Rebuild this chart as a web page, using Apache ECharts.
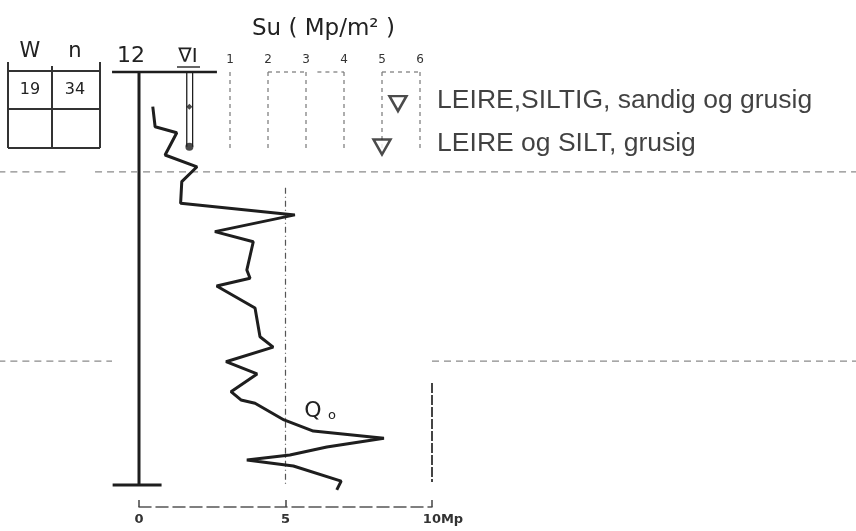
<!DOCTYPE html>
<html>
<head>
<meta charset="utf-8">
<script src="https://cdn.jsdelivr.net/npm/echarts@6/dist/echarts.min.js"></script>
<style>
html,body{margin:0;padding:0;background:#fff;}
#chart{width:856px;height:531px;}
</style>
</head>
<body>
<div id="chart"></div>
<script>
// ---- data ----
// total sounding force (Mp) against depth (m)
const forceMp    = [0.47,0.55,1.29,0.89,1.98,1.46,1.42,5.32,2.59,3.90,3.68,3.79,2.65,3.96,4.13,4.58,2.97,4.03,3.14,3.48,3.96,4.95,5.95,8.36,6.41,5.15,3.68,5.27,6.90,6.75];
const forceDepth = [1.68,2.65,2.94,4.02,4.59,5.31,6.36,6.92,7.73,8.22,9.59,9.99,10.36,11.43,12.82,13.32,14.03,14.62,15.48,15.88,16.04,16.85,17.39,17.74,18.16,18.55,18.79,19.08,19.81,20.24];
const forceTicks = [0, 5, 10];
const forceUnit  = 'Mp';
// shear strength Su (Mp/m2) with soil descriptions
const suValues   = [5.42, 5.0];
const suDepths   = [1.53, 3.63];
const soilLayers = ['LEIRE,SILTIG, sandig og grusig', 'LEIRE og SILT, grusig'];
const suTicks    = [1, 2, 3, 4, 5, 6];
// layer boundaries (m)
const layerBoundaries = [4.84, 14.0];
const boreholeDepth = 20;
// water content table
const tableHeaders = ['W', 'n'];
const tableValues  = ['19', '34'];
const elevation    = '12';
// piezometer
const piezoDepth = 3.62;
const piezoMark  = 1.68;

// ---- layout (pixels) ----
const W = 856, H = 531;
const PLOT_L = 139, PLOT_R = 432, PLOT_T = 72, PLOT_B = 485;
const pxPerMp = (PLOT_R - PLOT_L) / 10;
const pxPerM = (PLOT_B - PLOT_T) / boreholeDepth;

// ---- helpers ----
const INK = '#1e1e1e';
function seg(points, style, axis) {
  return {
    type: 'line', xAxisIndex: axis || 0, yAxisIndex: axis || 0,
    data: points, symbol: 'none', clip: false, silent: true,
    lineStyle: Object.assign({color: INK, width: 2}, style),
    z: 2
  };
}

const series = [];
// sounding curve
series.push({
  type: 'line', xAxisIndex: 0, yAxisIndex: 0, clip: false, symbol: 'none',
  data: forceMp.map((v, i) => [v, forceDepth[i]]),
  lineStyle: {color: INK, width: 3}, z: 5
});
// borehole axis, top line, bottom bar
series.push(seg([[0, 0], [0, boreholeDepth]], {width: 3}));
series.push(seg([[-0.92, 0], [2.66, 0]], {width: 2.5}));
series.push(seg([[-0.9, boreholeDepth], [0.77, boreholeDepth]], {width: 3}));
// layer boundaries (dashed, broken round the curve)
const dashed = {color: '#8a8a8a', width: 1.3, type: [7, 5]};
series.push(seg([[-4.8, layerBoundaries[0]], [-2.42, layerBoundaries[0]]], dashed));
series.push(seg([[-1.5, layerBoundaries[0]], [24.5, layerBoundaries[0]]], dashed));
series.push(seg([[-4.8, layerBoundaries[1]], [-0.92, layerBoundaries[1]]], dashed));
series.push(seg([[10, layerBoundaries[1]], [24.5, layerBoundaries[1]]], dashed));
// reference verticals at 5 and 10 Mp
series.push(seg([[5, 5.6], [5, boreholeDepth]], {color: '#555', width: 1.2, type: [6, 3, 1, 3]}));
series.push(seg([[10, 15.06], [10, 19.85]], {color: '#444', width: 2, type: [10, 2]}));
// piezometer tube
series.push(seg([[1.63, 0], [1.63, piezoDepth]], {width: 1.3}));
series.push(seg([[1.83, 0], [1.83, piezoDepth]], {width: 1.3}));
series.push({
  type: 'scatter', xAxisIndex: 0, yAxisIndex: 0, clip: false, silent: true,
  data: [[1.72, piezoDepth]], symbol: 'circle', symbolSize: 8,
  itemStyle: {color: INK}, z: 6
});
series.push({
  type: 'scatter', xAxisIndex: 0, yAxisIndex: 0, clip: false, silent: true,
  data: [[1.72, piezoMark]], symbol: 'diamond', symbolSize: [6, 6],
  itemStyle: {color: INK}, z: 6
});
// Su frame: dashed verticals and top brackets
const suDash = {color: '#777', width: 1.2, type: [4, 4]};
suTicks.forEach(t => series.push(seg([[t, 0], [t, 3.8]], suDash, 1)));
[[2, 3], [3.3, 4], [5, 6]].forEach(p => series.push(seg([[p[0], 0], [p[1], 0]], suDash, 1)));
// Su triangles
series.push({
  type: 'scatter', xAxisIndex: 1, yAxisIndex: 1, clip: false,
  data: suValues.map((v, i) => [v, suDepths[i]]),
  symbol: 'triangle', symbolRotate: 180, symbolSize: [17, 15],
  itemStyle: {color: '#fff', borderColor: INK, borderWidth: 2.5}, z: 6
});
// soil descriptions
series.push({
  type: 'scatter', xAxisIndex: 1, yAxisIndex: 1, clip: false,
  data: suDepths.map(d => [6.45, d]), symbolSize: 0,
  label: {
    show: true, position: 'right', distance: 0, offset: [0, -3],
    formatter: p => soilLayers[p.dataIndex],
    fontFamily: 'Liberation Sans', fontSize: 26.5, color: '#111'
  }
});

const txt = (x, y, text, size, extra) => ({
  type: 'text', x: x, y: y, silent: true,
  style: Object.assign({text: text, fontSize: size, fontFamily: 'DejaVu Sans', fill: '#222',
    textAlign: 'center', textVerticalAlign: 'middle'}, extra || {})
});
const ln = (x1, y1, x2, y2, w) => ({
  type: 'line', silent: true, shape: {x1: x1, y1: y1, x2: x2, y2: y2},
  style: {stroke: '#333', lineWidth: w || 2}
});

const graphic = [
  // table
  ln(8, 71, 100, 71), ln(8, 109, 100, 109), ln(8, 148, 100, 148),
  ln(8, 62, 8, 148), ln(52, 66, 52, 148), ln(100, 62, 100, 148),
  txt(30, 52, tableHeaders[0], 21), txt(75, 52, tableHeaders[1], 21),
  txt(30, 90, tableValues[0], 16), txt(75, 90, tableValues[1], 16),
  // elevation and water symbol
  txt(131, 56, elevation, 22),
  txt(188, 57, '\u2207I', 20),
  ln(177, 67, 200, 67, 1.5),
  // Su title
  txt(252, 29, 'Su ( Mp/m\u00B2 )', 23, {textAlign: 'left'}),
  // Qo label
  txt(313, 411, 'Q', 22),
  txt(332, 416, 'o', 13)
];

const lastTick = forceTicks[forceTicks.length - 1];
const chart = echarts.init(document.getElementById('chart'), null, {renderer: 'canvas'});
chart.setOption({
  backgroundColor: '#ffffff',
  animation: false,
  grid: [
    // full-canvas drawing grid, same scale as the 0–10 Mp axis
    {left: 0, right: 0, top: 0, bottom: 0},
    // Su grid
    {left: 192, right: W - 420, top: PLOT_T, bottom: H - PLOT_B},
    // visible Mp axis grid
    {left: PLOT_L, right: W - PLOT_R, top: PLOT_T, bottom: H - PLOT_B}
  ],
  xAxis: [
    {gridIndex: 0, type: 'value', min: -PLOT_L / pxPerMp, max: (W - PLOT_L) / pxPerMp, show: false},
    {
      gridIndex: 1, type: 'value', min: 0, max: suTicks[suTicks.length - 1], interval: 1,
      position: 'top',
      axisLine: {show: false}, axisTick: {show: false}, splitLine: {show: false},
      axisLabel: {formatter: v => (suTicks.indexOf(v) >= 0 ? String(v) : ''), fontSize: 12, margin: 6,
        color: '#333', fontFamily: 'DejaVu Sans'}
    },
    {
      gridIndex: 2, type: 'value', min: forceTicks[0], max: lastTick,
      interval: forceTicks[1] - forceTicks[0], position: 'bottom', offset: 22,
      axisLine: {show: true, onZero: false, lineStyle: {color: '#555', width: 1.5, type: [12, 5]}},
      axisTick: {show: true, inside: true, length: 7, lineStyle: {color: '#444', width: 1.5}},
      axisLabel: {
        fontSize: 13, margin: 6, color: '#333', fontFamily: 'DejaVu Sans', fontWeight: 'bold',
        formatter: v => (v === lastTick ? '{s|}' + v + '{u|' + forceUnit + '}' : String(v)),
        rich: {
          s: {width: 22},
          u: {fontSize: 13, color: '#333', fontFamily: 'DejaVu Sans', fontWeight: 'bold'}
        }
      },
      splitLine: {show: false}
    }
  ],
  yAxis: [
    {gridIndex: 0, type: 'value', inverse: true, min: -PLOT_T / pxPerM, max: (H - PLOT_T) / pxPerM, show: false},
    {gridIndex: 1, type: 'value', inverse: true, min: 0, max: boreholeDepth, show: false},
    {gridIndex: 2, type: 'value', inverse: true, min: 0, max: boreholeDepth, show: false}
  ],
  series: series,
  graphic: graphic
});
</script>
</body>
</html>
